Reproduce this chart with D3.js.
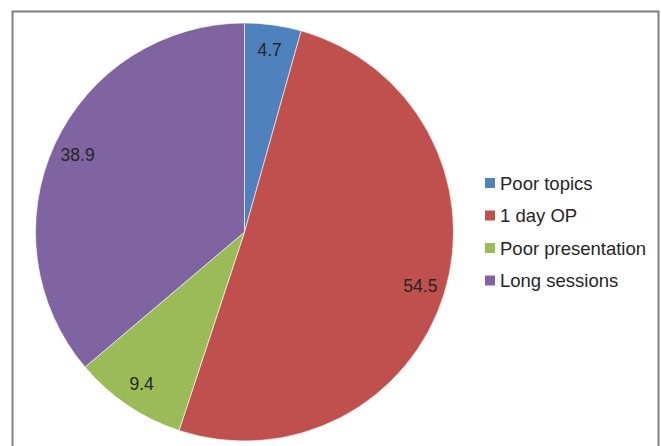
<!DOCTYPE html>
<html>
<head>
<meta charset="utf-8">
<script src="https://cdn.jsdelivr.net/npm/d3@7"></script>
<style>
  body { margin: 0; background: #fff; }
  text { font-family: "Liberation Sans", Arial, sans-serif; fill: #262626; }
</style>
</head>
<body>
<svg id="chart" width="661" height="446"></svg>
<script>
// data
const categories = ["Poor topics", "1 day OP", "Poor presentation", "Long sessions"];
const values = [4.7, 54.5, 9.4, 38.9];
const colors = ["#4F81BD", "#C0504D", "#9BBB59", "#8064A2"];

const width = 661, height = 446;
const cx = 244.5, cy = 232, radius = 209;

const svg = d3.select("#chart");

// outer frame (bottom edge runs past the window)
svg.append("rect")
    .attr("x", 12.5)
    .attr("y", 11.5)
    .attr("width", 646)
    .attr("height", 460)
    .attr("fill", "none")
    .attr("stroke", "#7f7f7f")
    .attr("stroke-width", 2)

let data = categories.map((c, i) => ({ name: c, value: values[i] }))

let pie = d3.pie().sort(null).value(d => d.value)
let arcs = pie(data)

let arc = d3.arc().innerRadius(0).outerRadius(radius)
let labelArc = d3.arc().innerRadius(radius * 0.88).outerRadius(radius * 0.88)

let g = svg.append("g")
    .attr("transform", "translate(" + cx + "," + cy + ")")

g.selectAll("path")
    .data(arcs)
    .enter()
    .append("path")
    .attr("d", arc)
    .attr("fill", (d, i) => colors[i])
    .attr("stroke", "#fff")
    .attr("stroke-width", 0.6)

g.selectAll("text.lbl")
    .data(arcs)
    .enter()
    .append("text")
    .attr("class", "lbl")
    .attr("transform", d => "translate(" + labelArc.centroid(d) + ")")
    .attr("text-anchor", "middle")
    .attr("dominant-baseline", "central")
    .style("font-size", "17.5px")
    .text(d => d.data.value)

// legend
let legend = svg.append("g")
    .attr("transform", "translate(485,183)")

for (let i = 0; i < categories.length; i++) {
    legend.append("rect")
        .attr("x", 0)
        .attr("y", i * 32.5 - 5)
        .attr("width", 10)
        .attr("height", 10)
        .attr("fill", colors[i])

    legend.append("text")
        .attr("x", 15)
        .attr("y", i * 32.5)
        .attr("dominant-baseline", "central")
        .style("font-size", "18.5px")
        .text(categories[i])
}
</script>
</body>
</html>
